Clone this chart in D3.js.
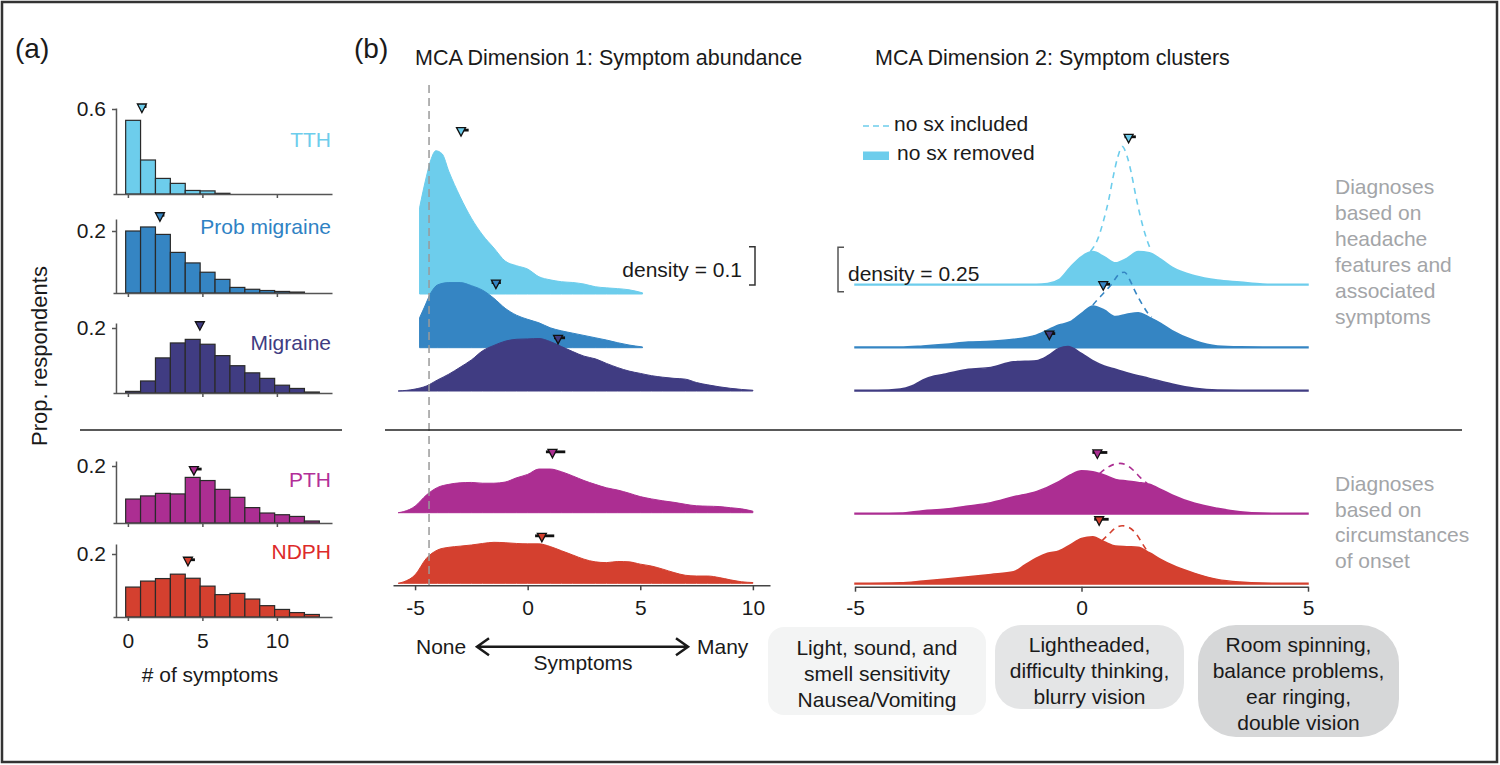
<!DOCTYPE html>
<html>
<head>
<meta charset="utf-8">
<script src="https://cdn.jsdelivr.net/npm/d3@7"></script>
<style>
  body { margin: 0; background: #fff; }
  svg { display: block; font-family: "Liberation Sans", Arial, Helvetica, sans-serif; }
</style>
</head>
<body>
<svg id="fig" width="1500" height="765"></svg>
<script>
"use strict"

// ---- data ----
const diagnoses = ["TTH", "Prob migraine", "Migraine", "PTH", "NDPH"];
const symptomCounts = [0, 1, 2, 3, 4, 5, 6, 7, 8, 9, 10, 11, 12];

// (a) proportion of respondents by # of symptoms
const histTTH = [0.52, 0.24, 0.11, 0.075, 0.025, 0.022, 0.005, 0, 0, 0, 0, 0, 0];
const histProb = [0.2, 0.213, 0.189, 0.131, 0.097, 0.067, 0.044, 0.018, 0.012, 0.008, 0.005, 0.003, 0];
const histMig = [0.005, 0.037, 0.108, 0.154, 0.165, 0.15, 0.115, 0.084, 0.062, 0.045, 0.024, 0.014, 0.003];
const histPTH = [0.084, 0.095, 0.104, 0.102, 0.16, 0.149, 0.118, 0.09, 0.054, 0.035, 0.029, 0.023, 0.007];
const histNDPH = [0.095, 0.114, 0.122, 0.136, 0.123, 0.098, 0.071, 0.075, 0.057, 0.036, 0.024, 0.014, 0.008];
const histTicks = [0.6, 0.2, 0.2, 0.2, 0.2];
const histMean = [0.94, 2.15, 4.83, 4.43, 4.03];
const histCI = [[0.9, 1.25], [2.1, 2.45], [4.8, 4.92], [4.2, 4.95], [3.85, 4.5]];
const histMarkerLevel = [0.607, 0.246, 0.207, 0.184, 0.177];
const symptomTicks = [0, 5, 10];

// (b) MCA dimension 1 densities: [score, density]
const d1TTH = [[-4.8, 0.225], [-4.5, 0.306], [-4.3, 0.35], [-4.08, 0.374], [-3.8, 0.366], [-3.5, 0.32], [-3, 0.254], [-2.5, 0.198], [-2, 0.154], [-1.5, 0.12], [-1, 0.086], [-0.5, 0.074], [0, 0.065], [0.5, 0.045], [1, 0.037], [1.5, 0.032], [2, 0.03], [2.5, 0.026], [3, 0.019], [3.5, 0.016], [4, 0.014], [4.5, 0.011], [5.1, 0.003]];
const d1Prob = [[-4.8, 0.078], [-4.6, 0.104], [-4.3, 0.143], [-4, 0.164], [-3.5, 0.17], [-3, 0.17], [-2.5, 0.162], [-2, 0.15], [-1.5, 0.129], [-1, 0.103], [-0.5, 0.085], [0, 0.074], [0.5, 0.065], [1, 0.052], [1.5, 0.044], [2, 0.038], [2.5, 0.032], [3, 0.026], [3.5, 0.02], [4, 0.013], [4.5, 0.007], [5.1, 0.002]];
const d1Mig = [[-5.75, 0], [-5, 0.005], [-4.5, 0.013], [-4, 0.029], [-3.5, 0.044], [-3, 0.062], [-2.5, 0.081], [-2, 0.105], [-1.5, 0.119], [-1, 0.13], [-0.5, 0.135], [0, 0.136], [0.5, 0.137], [1, 0.129], [1.5, 0.116], [2, 0.103], [2.5, 0.091], [3, 0.084], [3.5, 0.072], [4, 0.061], [4.5, 0.052], [5, 0.046], [5.5, 0.04], [6, 0.036], [6.5, 0.033], [7, 0.031], [7.5, 0.022], [8, 0.016], [8.5, 0.011], [9, 0.007], [9.5, 0.004], [10, 0.002]];
const d1PTH = [[-5.75, 0], [-5.5, 0.003], [-5, 0.017], [-4.5, 0.046], [-4, 0.066], [-3.5, 0.074], [-3, 0.078], [-2.5, 0.079], [-2, 0.077], [-1.5, 0.077], [-1, 0.08], [-0.5, 0.091], [0, 0.1], [0.5, 0.114], [1, 0.114], [1.5, 0.107], [2, 0.096], [2.5, 0.084], [3, 0.074], [3.5, 0.065], [4, 0.059], [4.5, 0.051], [5, 0.042], [5.5, 0.036], [6, 0.031], [6.5, 0.027], [7, 0.022], [7.5, 0.018], [8, 0.017], [8.5, 0.016], [9, 0.013], [9.5, 0.01], [10, 0.004]];
const d1NDPH = [[-5.75, 0], [-5.5, 0.004], [-5, 0.022], [-4.5, 0.065], [-4, 0.087], [-3.5, 0.094], [-3, 0.097], [-2.5, 0.1], [-2, 0.104], [-1.5, 0.107], [-1, 0.106], [-0.5, 0.104], [0, 0.103], [0.5, 0.103], [1, 0.096], [1.5, 0.085], [2, 0.074], [2.5, 0.063], [3, 0.056], [3.5, 0.054], [4, 0.057], [4.5, 0.056], [5, 0.05], [5.5, 0.045], [6, 0.037], [6.5, 0.028], [7, 0.021], [7.5, 0.019], [8, 0.019], [8.5, 0.015], [9, 0.009], [9.5, 0.004], [10, 0.002]];
const dim1Mean = [-2.96, -1.41, 1.35, 1.1, 0.63];
const dim1CI = [[-3.08, -2.62], [-1.6, -1.19], [1.17, 1.66], [0.81, 1.67], [0.33, 1.18]];
const dim1MarkerLevel = [0.424, 0.166, 0.135, 0.155, 0.12];

// (b) MCA dimension 2 densities, "no sx removed" (filled)
const d2TTH = [[-5, 0.004], [-4, 0.004], [-3, 0.004], [-2, 0.004], [-1, 0.004], [-0.75, 0.008], [-0.5, 0.03], [-0.25, 0.1], [0, 0.16], [0.25, 0.188], [0.5, 0.16], [0.75, 0.125], [1, 0.15], [1.25, 0.188], [1.5, 0.182], [1.75, 0.145], [2, 0.1], [2.5, 0.052], [3, 0.028], [3.5, 0.017], [4, 0.006], [4.5, 0.004], [5, 0.004]];
const d2Prob = [[-5, 0.004], [-4, 0.004], [-3.5, 0.01], [-3, 0.019], [-2.5, 0.032], [-2, 0.036], [-1.5, 0.047], [-1, 0.071], [-0.5, 0.128], [-0.25, 0.146], [0, 0.194], [0.25, 0.235], [0.5, 0.212], [0.75, 0.175], [1, 0.188], [1.25, 0.197], [1.5, 0.171], [1.75, 0.137], [2, 0.096], [2.5, 0.039], [3, 0.01], [3.5, 0.005], [4, 0.004], [5, 0.004]];
const d2Mig = [[-5, 0.004], [-4.5, 0.004], [-4, 0.011], [-3.75, 0.028], [-3.5, 0.062], [-3.25, 0.084], [-3, 0.096], [-2.5, 0.122], [-2, 0.133], [-1.5, 0.165], [-1, 0.171], [-0.75, 0.197], [-0.5, 0.24], [-0.3, 0.25], [0, 0.212], [0.25, 0.171], [0.5, 0.141], [0.75, 0.122], [1, 0.103], [1.5, 0.071], [2, 0.039], [2.5, 0.015], [3, 0.005], [3.5, 0.004], [5, 0.004]];
const d2PTH = [[-5, 0.004], [-4.5, 0.004], [-4, 0.006], [-3.5, 0.019], [-3, 0.028], [-2.5, 0.045], [-2, 0.064], [-1.5, 0.097], [-1, 0.126], [-0.5, 0.182], [-0.25, 0.22], [0, 0.244], [0.25, 0.238], [0.5, 0.22], [0.75, 0.195], [1, 0.186], [1.25, 0.178], [1.5, 0.167], [1.75, 0.139], [2, 0.107], [2.5, 0.06], [3, 0.032], [3.5, 0.013], [4, 0.005], [4.5, 0.004], [5, 0.004]];
const d2NDPH = [[-5, 0.004], [-4, 0.007], [-3.5, 0.017], [-3, 0.028], [-2.5, 0.041], [-2, 0.054], [-1.5, 0.069], [-1.25, 0.107], [-1, 0.145], [-0.75, 0.173], [-0.5, 0.186], [-0.25, 0.22], [0, 0.257], [0.25, 0.266], [0.5, 0.238], [0.75, 0.214], [1, 0.21], [1.25, 0.207], [1.5, 0.176], [1.75, 0.139], [2, 0.107], [2.5, 0.06], [3, 0.026], [3.5, 0.011], [4, 0.005], [4.5, 0.004], [5, 0.004]];
// "no sx included" (dashed), only where it rises above the filled curve
const d2TTHin = [[0.2, 0.19], [0.35, 0.253], [0.5, 0.375], [0.6, 0.479], [0.7, 0.61], [0.8, 0.72], [0.9, 0.78], [1, 0.73], [1.1, 0.63], [1.2, 0.5], [1.3, 0.385], [1.4, 0.29], [1.5, 0.216], [1.55, 0.19]];
const d2ProbIn = [[0.25, 0.24], [0.35, 0.27], [0.45, 0.297], [0.55, 0.325], [0.65, 0.353], [0.75, 0.39], [0.85, 0.42], [0.95, 0.425], [1.05, 0.39], [1.15, 0.335], [1.25, 0.285], [1.35, 0.24], [1.45, 0.2], [1.55, 0.172]];
const d2PTHin = [[0.4, 0.228], [0.55, 0.258], [0.7, 0.278], [0.85, 0.285], [1, 0.275], [1.15, 0.245], [1.3, 0.205], [1.45, 0.172]];
const d2NDPHin = [[0.45, 0.243], [0.6, 0.28], [0.75, 0.315], [0.9, 0.328], [1.05, 0.318], [1.2, 0.285], [1.35, 0.225], [1.45, 0.185]];
const dim2Mean = [1.04, 0.48, -0.71, 0.35, 0.39];
const dim2CI = [[0.95, 1.2], [0.41, 0.63], [-0.79, -0.58], [0.24, 0.57], [0.28, 0.6]];
const dim2MarkerLevel = [0.826, 0.349, 0.315, 0.338, 0.356];
const dim1Ticks = [-5, 0, 5, 10];
const dim2Ticks = [-5, 0, 5];

const clusterBoxes = [
  ["Light, sound, and", "smell sensitivity", "Nausea/Vomiting"],
  ["Lightheaded,", "difficulty thinking,", "blurry vision"],
  ["Room spinning,", "balance problems,", "ear ringing,", "double vision"]
];
const groupNotes = [
  ["Diagnoses", "based on", "headache", "features and", "associated", "symptoms"],
  ["Diagnoses", "based on", "circumstances", "of onset"]
];

// ---- styles ----
const fillColors = ["#6dcdec", "#3585c3", "#403c82", "#ac2e92", "#d4402f"];
const labelColors = ["#6dcdec", "#2f82c4", "#403c82", "#b32f98", "#dd2a2a"];
const FS = 21;

const svg = d3.select("#fig");

svg.append("rect")
  .attr("x", 2).attr("y", 2).attr("width", 1495).attr("height", 760)
  .attr("fill", "none").attr("stroke", "#333").attr("stroke-width", 2.5);

function addText(g, x, y, str, opts) {
  opts = opts || {};
  return g.append("text")
    .attr("x", x).attr("y", y).attr("dy", "0.35em")
    .attr("font-size", opts.size || FS)
    .attr("fill", opts.color || "#1a1a1a")
    .attr("text-anchor", opts.anchor || "start")
    .text(str);
}

function drawMarker(g, cx, cy, lo, hi, color) {
  g.append("line")
    .attr("x1", lo).attr("x2", hi).attr("y1", cy - 1.5).attr("y2", cy - 1.5)
    .attr("stroke", "#111").attr("stroke-width", 2.8);
  g.append("path")
    .attr("d", `M${cx - 4.5},${cy - 4}L${cx + 4.5},${cy - 4}L${cx},${cy + 4.5}Z`)
    .attr("fill", color).attr("stroke", "#111").attr("stroke-width", 1.3);
}

// ================= panel (a) =================
addText(svg, 15, 48, "(a)", { size: 28 });

const histData = [histTTH, histProb, histMig, histPTH, histNDPH];
const histLayout = [
  { base: 194, top: 108, tickY: 109, labelY: 140 },
  { base: 293, top: 219, tickY: 231, labelY: 227 },
  { base: 393, top: 323, tickY: 328, labelY: 343 },
  { base: 523, top: 461, tickY: 466, labelY: 480 },
  { base: 617, top: 544, tickY: 554, labelY: 552 }
];
const hx = d3.scaleLinear().domain([-1, 13.7]).range([113, 332]);

histData.forEach((vals, i) => {
  const L = histLayout[i];
  const ymax = histTicks[i] * (L.base - L.top) / (L.base - L.tickY);
  const hy = d3.scaleLinear().domain([0, ymax]).range([L.base, L.top]);
  const g = svg.append("g");

  g.selectAll("rect")
    .data(symptomCounts.filter(c => vals[c] > 0))
    .enter()
    .append("rect")
      .attr("x", c => hx(c - 0.15))
      .attr("width", c => hx(c + 0.85) - hx(c - 0.15))
      .attr("y", c => hy(vals[c]))
      .attr("height", c => L.base - hy(vals[c]))
      .attr("fill", fillColors[i])
      .attr("stroke", "#2a2a2a")
      .attr("stroke-width", 1.2);

  const xAxis = d3.axisBottom(hx)
    .tickValues(symptomTicks)
    .tickSize(4)
    .tickSizeOuter(0)
    .tickPadding(12)
    .tickFormat(i === histData.length - 1 ? d => String(d) : "");
  const gx = g.append("g").attr("transform", `translate(0,${L.base})`).call(xAxis);

  const yAxis = d3.axisLeft(hy)
    .tickValues([histTicks[i]])
    .tickSize(4)
    .tickSizeOuter(0)
    .tickPadding(6)
    .tickFormat(d => String(d));
  const gy = g.append("g").attr("transform", `translate(${hx(-0.8)},0)`).call(yAxis);

  [gx, gy].forEach(ax => {
    ax.select(".domain").attr("stroke", "#555").attr("stroke-width", 1.5);
    ax.selectAll(".tick line").attr("stroke", "#555").attr("stroke-width", 1.5);
    ax.selectAll(".tick text").attr("font-size", FS).attr("fill", "#1a1a1a")
      .attr("font-family", "Liberation Sans, Arial, sans-serif");
  });

  addText(g, 331, L.labelY, diagnoses[i], { anchor: "end", color: labelColors[i] });

  drawMarker(g, hx(histMean[i]), hy(histMarkerLevel[i]),
    hx(histCI[i][0]), hx(histCI[i][1]), fillColors[i]);
});

svg.append("line").attr("x1", 80).attr("x2", 342).attr("y1", 430).attr("y2", 430)
  .attr("stroke", "#222").attr("stroke-width", 1.5);

addText(svg, 210, 675, "# of symptoms", { anchor: "middle" });
svg.append("text")
  .attr("transform", "translate(39,356) rotate(-90)")
  .attr("dy", "0.35em").attr("text-anchor", "middle")
  .attr("font-size", 22).attr("fill", "#1a1a1a")
  .text("Prop. respondents");

// ================= panel (b) =================
addText(svg, 354, 48, "(b)", { size: 28 });
addText(svg, 415, 57, "MCA Dimension 1: Symptom abundance", { size: 21.5 });
addText(svg, 875, 57, "MCA Dimension 2: Symptom clusters", { size: 21.5 });

const x1 = d3.scaleLinear().domain([-5.98, 10.76]).range([393, 770]);
const h1 = d3.scaleLinear().domain([0, 1]).range([0, 383]);
const base1 = [294, 347.7, 391, 512.7, 583.3];
const x2 = d3.scaleLinear().domain([-5, 5]).range([855, 1308]);
const h2 = d3.scaleLinear().domain([0, 1]).range([0, 177.6]);
const base2 = [285, 347.7, 391, 514, 584];

const dim1Series = [d1TTH, d1Prob, d1Mig, d1PTH, d1NDPH];
const dim2Series = [d2TTH, d2Prob, d2Mig, d2PTH, d2NDPH];
const dim2Included = [d2TTHin, d2ProbIn, null, d2PTHin, d2NDPHin];

function ridgeArea(xs, hs, base) {
  return d3.area()
    .x(d => xs(d[0]))
    .y0(base)
    .y1(d => base - hs(d[1]))
    .curve(d3.curveMonotoneX);
}
function ridgeLine(xs, hs, base) {
  return d3.line()
    .x(d => xs(d[0]))
    .y(d => base - hs(d[1]))
    .curve(d3.curveMonotoneX);
}

const g1 = svg.append("g");
dim1Series.forEach((pts, i) => {
  g1.append("path")
    .datum(pts)
    .attr("d", ridgeArea(x1, h1, base1[i]))
    .attr("fill", fillColors[i])
    .attr("stroke", fillColors[i])
    .attr("stroke-width", 1);
});
// "no symptoms" reference line
g1.append("line")
  .attr("x1", x1(-4.38)).attr("x2", x1(-4.38)).attr("y1", 85).attr("y2", 585)
  .attr("stroke", "#9a9a9a").attr("stroke-width", 1.5).attr("stroke-dasharray", "8,5");
dim1Series.forEach((pts, i) => {
  const y = base1[i] - h1(dim1MarkerLevel[i]);
  drawMarker(g1, x1(dim1Mean[i]), y, x1(dim1CI[i][0]), x1(dim1CI[i][1]), fillColors[i]);
});

const g2 = svg.append("g");
dim2Series.forEach((pts, i) => {
  g2.append("path")
    .datum(pts)
    .attr("d", ridgeArea(x2, h2, base2[i]))
    .attr("fill", fillColors[i])
    .attr("stroke", fillColors[i])
    .attr("stroke-width", 1.5);
  if (dim2Included[i]) {
    g2.append("path")
      .datum(dim2Included[i])
      .attr("d", ridgeLine(x2, h2, base2[i]))
      .attr("fill", "none")
      .attr("stroke", fillColors[i])
      .attr("stroke-width", 1.6)
      .attr("stroke-dasharray", "6,5");
  }
});
dim2Series.forEach((pts, i) => {
  const y = base2[i] - h2(dim2MarkerLevel[i]);
  drawMarker(g2, x2(dim2Mean[i]), y, x2(dim2CI[i][0]), x2(dim2CI[i][1]), fillColors[i]);
});

// axes
function styleAxis(ax) {
  ax.select(".domain").attr("stroke", "#444").attr("stroke-width", 1.5);
  ax.selectAll(".tick line").attr("stroke", "#444").attr("stroke-width", 1.5);
  ax.selectAll(".tick text").attr("font-size", FS).attr("fill", "#1a1a1a")
    .attr("font-family", "Liberation Sans, Arial, sans-serif");
}
styleAxis(svg.append("g").attr("transform", "translate(0,585.3)")
  .call(d3.axisBottom(x1).tickValues(dim1Ticks).tickSize(5).tickSizeOuter(0)
    .tickPadding(10).tickFormat(d => String(d))));
styleAxis(svg.append("g").attr("transform", "translate(0,586.7)")
  .call(d3.axisBottom(x2).tickValues(dim2Ticks).tickSize(5).tickSizeOuter(0)
    .tickPadding(8).tickFormat(d => String(d))));

// group separator
svg.append("line").attr("x1", 385).attr("x2", 1462).attr("y1", 430).attr("y2", 430)
  .attr("stroke", "#222").attr("stroke-width", 1.5);

// density scale brackets
const br1Bottom = 285, br1Top = br1Bottom - h1(0.1);
svg.append("path")
  .attr("d", `M749,${br1Top}H755V${br1Bottom}H749`)
  .attr("fill", "none").attr("stroke", "#333").attr("stroke-width", 1.5);
addText(svg, 742, 270, "density = 0.1", { anchor: "end" });

const br2Bottom = 291.7, br2Top = br2Bottom - h2(0.25);
svg.append("path")
  .attr("d", `M844,${br2Top}H838V${br2Bottom}H844`)
  .attr("fill", "none").attr("stroke", "#555").attr("stroke-width", 1.5);
addText(svg, 848, 274, "density = 0.25");

// legend
svg.append("line").attr("x1", 863).attr("x2", 891).attr("y1", 126).attr("y2", 126)
  .attr("stroke", fillColors[0]).attr("stroke-width", 1.6).attr("stroke-dasharray", "6,4");
addText(svg, 894, 124, "no sx included");
svg.append("rect").attr("x", 863).attr("y", 151.5).attr("width", 26).attr("height", 8.5)
  .attr("fill", fillColors[0]);
addText(svg, 897, 153, "no sx removed");

// group notes on the right
[186.7, 483.3].forEach((y0, k) => {
  groupNotes[k].forEach((line, j) => {
    addText(svg, 1335, y0 + j * 25.9, line, { color: "#a3a5a8" });
  });
});

// symptoms arrow
const arrowY = 646.7;
svg.append("path")
  .attr("d", `M477,${arrowY}H688M489,${arrowY - 8.5}L477,${arrowY}L489,${arrowY + 8.5}M676,${arrowY - 8.5}L688,${arrowY}L676,${arrowY + 8.5}`)
  .attr("fill", "none").attr("stroke", "#1a1a1a").attr("stroke-width", 2.5);
addText(svg, 416, arrowY, "None");
addText(svg, 697, arrowY, "Many");
addText(svg, 583, 663, "Symptoms", { anchor: "middle" });

// symptom cluster boxes
const boxLayout = [
  { x: 768, y: 627, w: 218, h: 88, r: 16, fill: "#f3f4f4", cy: 647.3 },
  { x: 995, y: 625, w: 189, h: 84, r: 26, fill: "#e4e5e6", cy: 645 },
  { x: 1198, y: 625, w: 201, h: 112, r: 38, fill: "#d6d7d8", cy: 645 }
];
clusterBoxes.forEach((lines, k) => {
  const B = boxLayout[k];
  svg.append("rect")
    .attr("x", B.x).attr("y", B.y).attr("width", B.w).attr("height", B.h)
    .attr("rx", B.r).attr("ry", B.r).attr("fill", B.fill);
  lines.forEach((line, j) => {
    addText(svg, B.x + B.w / 2, B.cy + j * 26, line, { anchor: "middle" });
  });
});
</script>
</body>
</html>
